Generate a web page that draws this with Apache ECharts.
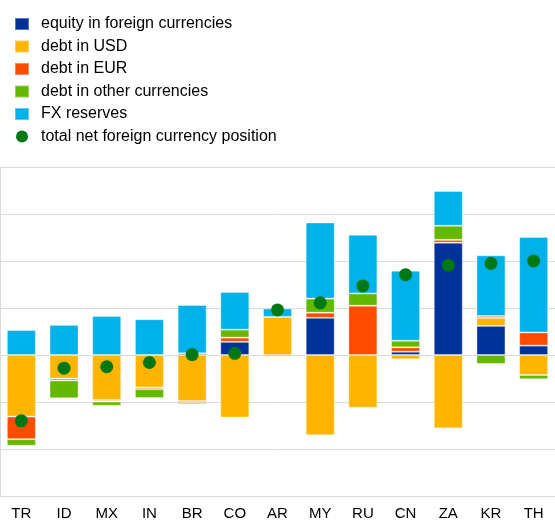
<!DOCTYPE html>
<html>
<head>
<meta charset="utf-8">
<script src="https://cdn.jsdelivr.net/npm/echarts@6/dist/echarts.min.js"></script>
<style>
  html, body { margin: 0; padding: 0; background: #fff; }
  #main { width: 555px; height: 523px; }
</style>
</head>
<body>
<div id="main"></div>
<script>
// countries on the x axis
let categories = ['TR', 'ID', 'MX', 'IN', 'BR', 'CO', 'AR', 'MY', 'RU', 'CN', 'ZA', 'KR', 'TH']
// components
let equity = [0, 0, 0, 0, 0.35, 2.8, 0, 7.9, 0, 0.7, 23.9, 6.2, 2.0]
let debtUsd = [-13.1, -5.0, -9.6, -6.9, -9.8, -13.3, 8.1, -17.1, -11.2, -0.9, -15.6, 1.7, -4.25]
let debtEur = [-4.8, -0.4, -0.3, -0.35, -0.35, 0.9, -0.35, 1.1, 10.5, 0.94, 0.6, 0.4, 2.8]
let debtOther = [-1.4, -3.8, -0.9, -1.9, -0.35, 1.7, 0, 3.0, 2.6, 1.4, 3.0, -1.9, -0.9]
let fxReserves = [5.3, 6.4, 8.3, 7.6, 10.3, 8.0, 1.8, 16.2, 12.5, 14.9, 7.4, 12.9, 20.3]
let totalNet = [-14.0, -2.8, -2.5, -1.6, 0.1, 0.35, 9.6, 11.1, 14.7, 17.1, 19.1, 19.5, 20.0]

let gridColor = '#dadada'

function barSeries(name, data, color) {
  return {
    name: name,
    type: 'bar',
    stack: 'total',
    barWidth: 29,
    data: data,
    itemStyle: {
      color: color,
      borderColor: 'rgba(255,255,255,0.35)',
      borderWidth: 1
    }
  }
}

let chart = echarts.init(document.getElementById('main'))
let option = {
  animation: false,
  textStyle: { fontFamily: 'Liberation Sans, Arial, sans-serif' },
  legend: {
    orient: 'vertical',
    left: 14,
    top: 16,
    padding: 0,
    itemWidth: 14,
    itemHeight: 12,
    itemGap: 6.5,
    textStyle: {
      fontSize: 16,
      lineHeight: 16,
      color: '#000',
      padding: [0, 0, 0, 7]
    },
    data: [
      { name: 'equity in foreign currencies', icon: 'rect' },
      { name: 'debt in USD', icon: 'rect' },
      { name: 'debt in EUR', icon: 'rect' },
      { name: 'debt in other currencies', icon: 'rect' },
      { name: 'FX reserves', icon: 'rect' },
      { name: 'total net foreign currency position', icon: 'circle' }
    ]
  },
  grid: {
    left: 0,
    top: 167,
    width: 564.5,
    bottom: 27
  },
  xAxis: {
    type: 'category',
    data: categories,
    axisLine: { show: false },
    axisTick: { show: false },
    axisLabel: {
      fontSize: 15,
      color: '#000',
      margin: 10
    }
  },
  yAxis: {
    type: 'value',
    min: -30,
    max: 40,
    interval: 10,
    axisLabel: { show: false },
    axisTick: { show: false },
    axisLine: { show: true, lineStyle: { color: gridColor, width: 1 } },
    splitLine: { lineStyle: { color: gridColor, width: 1 } }
  },
  series: [
    barSeries('equity in foreign currencies', equity, '#003299'),
    barSeries('debt in USD', debtUsd, '#FFB400'),
    barSeries('debt in EUR', debtEur, '#FF4B00'),
    barSeries('debt in other currencies', debtOther, '#65B800'),
    barSeries('FX reserves', fxReserves, '#00B1EA'),
    {
      name: 'total net foreign currency position',
      type: 'scatter',
      data: totalNet,
      symbolSize: 13,
      z: 5,
      itemStyle: { color: '#007816', opacity: 1 }
    }
  ]
}
chart.setOption(option)
</script>
</body>
</html>
